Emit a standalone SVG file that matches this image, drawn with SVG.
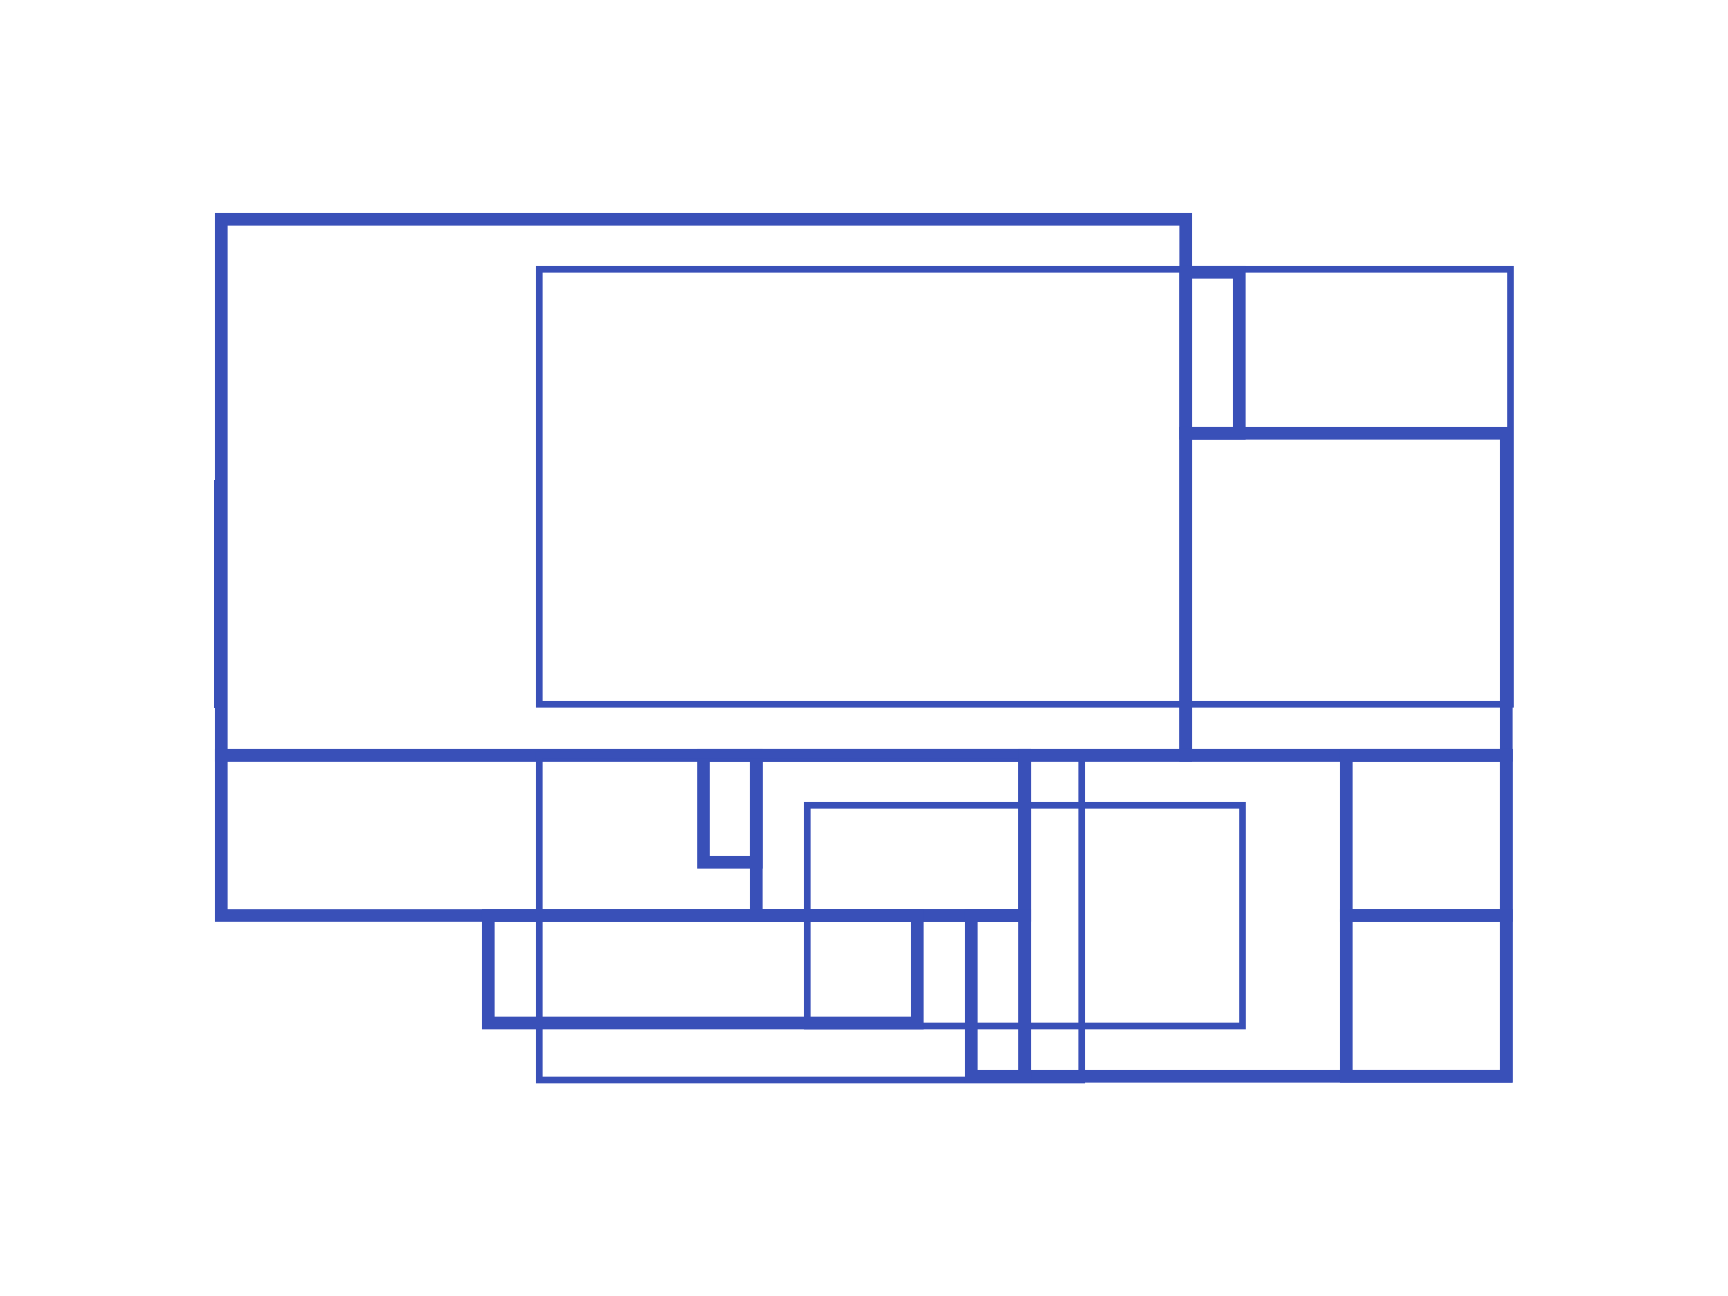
<svg xmlns="http://www.w3.org/2000/svg" width="1728" height="1296" viewBox="0 0 1728 1296">
<style>
.k{fill:none;stroke:#3950b8;stroke-linejoin:miter}
.thick{stroke-width:12.67}
.thin{stroke-width:6.67}
.bar{fill:#3950b8;stroke:none}
</style>
<rect x="0" y="0" width="1728" height="1296" fill="#ffffff"/>
<g id="node-a"><rect class="k thick" x="221.3" y="219.3" width="964.4" height="536"/></g>
<g id="node-e"><rect class="k thin" x="539.3" y="269.3" width="971.2" height="435"/></g>
<g id="node-c"><rect class="k thick" x="1185.7" y="272.3" width="53.6" height="161"/></g>
<g id="node-d"><rect class="k thick" x="1185.7" y="433.3" width="320.6" height="322"/></g>
<g id="node-edge"><rect class="bar" x="214" y="480" width="7" height="228"/></g>
<g id="node-g"><rect class="k thick" x="221.3" y="755.3" width="803.4" height="160.2"/></g>
<g id="node-i"><rect class="k thick" x="703.5" y="755.3" width="52.8" height="107"/></g>
<g id="node-p"><rect class="k thick" x="756.3" y="755.3" width="268.4" height="160.2"/></g>
<g id="node-h"><rect class="k thin" x="539.3" y="755.3" width="542.4" height="324.7"/></g>
<g id="node-j"><rect class="k thin" x="807.3" y="805.3" width="435.2" height="220.7"/></g>
<g id="node-k"><rect class="k thick" x="488.3" y="915.5" width="429" height="107.5"/></g>
<g id="node-q"><rect class="k thick" x="1024.7" y="755.3" width="481.6" height="321"/></g>
<g id="node-r"><rect class="k thick" x="971.3" y="915.5" width="53.4" height="160.8"/></g>
<g id="node-s"><rect class="k thick" x="1346.3" y="755.3" width="160" height="160.2"/></g>
<g id="node-t"><rect class="k thick" x="1346.3" y="915.5" width="160" height="160.8"/></g>
<g id="connectors"></g>
</svg>
